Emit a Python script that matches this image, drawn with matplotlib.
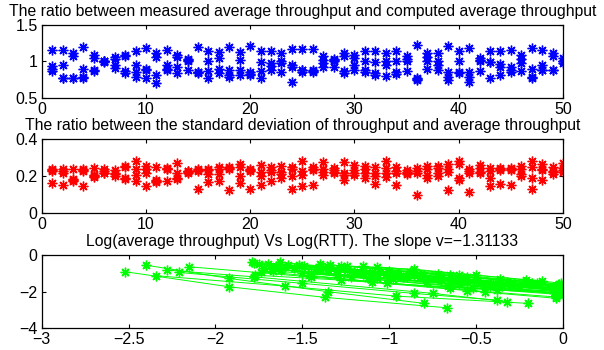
import matplotlib
matplotlib.use("Agg")
import matplotlib.pyplot as plt

plt.rcParams['font.family'] = ['Liberation Sans', 'DejaVu Sans']

# indice del experimento (1..50), 4 flujos por experimento
exp_idx = list(range(1, 51))

# cociente throughput medido / calculado
ratio_thr = [
    [1.16, 0.94, 0.90, 0.87], [1.16, 0.95, 0.78, 0.77], [1.11, 1.07, 0.78, 0.78],
    [1.20, 0.90, 0.79, 0.77], [1.09, 1.05, 0.89, 0.87], [1.01, 1.00, 0.99, 1.00],
    [1.06, 1.03, 0.95, 0.91], [1.09, 1.07, 0.87, 0.84], [1.15, 0.95, 0.86, 0.79],
    [1.18, 0.90, 0.88, 0.77], [1.11, 1.06, 0.82, 0.70], [1.16, 0.95, 0.90, 0.88],
    [1.09, 1.06, 0.92, 0.84], [1.03, 1.01, 1.02, 0.89], [1.20, 0.85, 0.84, 0.85],
    [1.14, 1.00, 0.87, 0.77], [1.13, 1.05, 0.90, 0.84], [1.20, 0.88, 0.82, 0.79],
    [1.13, 1.02, 0.88, 0.82], [1.21, 0.85, 0.83, 0.81], [1.15, 0.99, 0.87, 0.77],
    [1.15, 0.98, 0.94, 0.89], [1.11, 1.01, 0.98, 0.86], [1.17, 0.95, 0.72, 0.93],
    [1.17, 0.89, 0.86, 0.88], [1.17, 0.89, 0.86, 0.87], [1.07, 1.02, 0.98, 0.93],
    [1.03, 1.01, 0.92, 1.02], [1.11, 1.07, 0.87, 0.84], [1.09, 1.05, 0.95, 0.88],
    [1.14, 1.01, 0.89, 0.85], [1.15, 0.99, 0.84, 0.82], [1.11, 1.00, 0.95, 0.80],
    [1.15, 1.01, 0.85, 0.83], [1.08, 1.03, 1.00, 0.87], [1.22, 0.77, 0.75, 0.76],
    [1.11, 1.06, 1.00, 0.90], [1.11, 1.00, 0.95, 0.88], [1.21, 0.85, 0.79, 0.75],
    [1.15, 1.00, 0.84, 0.85], [1.19, 0.86, 0.79, 0.72], [1.05, 1.01, 0.87, 1.02],
    [1.15, 0.99, 0.77, 0.99], [1.15, 0.97, 0.92, 0.82], [1.16, 0.93, 0.88, 0.85],
    [1.09, 1.03, 0.98, 0.87], [1.19, 0.90, 0.79, 0.77], [1.16, 0.95, 0.88, 0.89],
    [1.11, 1.07, 0.89, 0.89], [1.05, 1.00, 0.98, 1.01],
]

# desviacion estandar / media del throughput
ratio_std = [
    [0.24, 0.235, 0.23, 0.165], [0.24, 0.23, 0.22, 0.15], [0.24, 0.185, 0.175, 0.18],
    [0.24, 0.235, 0.23, 0.145], [0.245, 0.205, 0.20, 0.195], [0.24, 0.23, 0.22, 0.215],
    [0.235, 0.22, 0.21, 0.20], [0.255, 0.25, 0.19, 0.185], [0.28, 0.24, 0.205, 0.175],
    [0.255, 0.24, 0.215, 0.145], [0.25, 0.18, 0.17, 0.175], [0.245, 0.24, 0.175, 0.24],
    [0.27, 0.215, 0.19, 0.185], [0.23, 0.225, 0.22, 0.23], [0.24, 0.235, 0.23, 0.13],
    [0.24, 0.21, 0.17, 0.235], [0.25, 0.24, 0.21, 0.175], [0.25, 0.245, 0.24, 0.125],
    [0.265, 0.25, 0.20, 0.165], [0.24, 0.235, 0.23, 0.13], [0.26, 0.225, 0.20, 0.155],
    [0.25, 0.235, 0.225, 0.175], [0.255, 0.225, 0.19, 0.21], [0.25, 0.24, 0.20, 0.13],
    [0.28, 0.23, 0.205, 0.145], [0.25, 0.24, 0.235, 0.15], [0.275, 0.24, 0.225, 0.205],
    [0.245, 0.235, 0.215, 0.225], [0.275, 0.215, 0.18, 0.205], [0.26, 0.235, 0.215, 0.205],
    [0.255, 0.24, 0.22, 0.19], [0.25, 0.20, 0.16, 0.22], [0.28, 0.245, 0.195, 0.22],
    [0.25, 0.215, 0.155, 0.23], [0.235, 0.225, 0.21, 0.22], [0.245, 0.23, 0.22, 0.10],
    [0.255, 0.24, 0.205, 0.19], [0.255, 0.245, 0.215, 0.20], [0.265, 0.24, 0.225, 0.125],
    [0.28, 0.265, 0.19, 0.18], [0.24, 0.23, 0.215, 0.115], [0.26, 0.245, 0.225, 0.22],
    [0.245, 0.19, 0.145, 0.23], [0.245, 0.235, 0.16, 0.24], [0.24, 0.235, 0.155, 0.245],
    [0.255, 0.21, 0.20, 0.24], [0.285, 0.25, 0.19, 0.13], [0.265, 0.235, 0.18, 0.24],
    [0.25, 0.23, 0.21, 0.225], [0.27, 0.245, 0.235, 0.225],
]

# log(RTT) y log(throughput medio), una linea por experimento
log_rtt = [
    [-2.52, -1.92, -1.37, -0.67], [-2.40, -1.92, -1.35, -0.80], [-2.34, -1.60, -0.96, -0.20],
    [-2.28, -1.78, -0.75, -0.32], [-2.21, -1.50, -0.86, -0.38], [-2.15, -1.45, -0.55, -0.04],
    [-1.79, -1.24, -0.71, 0.00], [-1.70, -1.17, -0.50, -0.02], [-1.77, -1.28, -0.65, -0.01],
    [-1.67, -1.07, -0.45, 0.00], [-1.58, -1.34, -0.86, -0.04], [-1.49, -0.95, -0.32, -0.01],
    [-1.46, -1.01, -0.38, 0.00], [-1.34, -0.86, -0.21, -0.02], [-1.24, -0.65, -0.20, 0.00],
    [-1.07, -0.50, -0.12, -0.01], [-1.75, -1.40, -0.90, -0.03], [-1.72, -1.10, -0.60, -0.02],
    [-1.65, -1.20, -0.35, 0.00], [-1.62, -0.98, -0.42, -0.05], [-1.55, -1.15, -0.70, -0.01],
    [-1.52, -0.80, -0.28, 0.00], [-1.42, -0.92, -0.48, -0.03], [-1.38, -1.05, -0.58, -0.02],
    [-1.30, -0.75, -0.30, 0.00], [-1.28, -0.88, -0.15, -0.04], [-1.20, -0.70, -0.25, -0.01],
    [-1.15, -0.60, -0.36, 0.00], [-1.78, -1.52, -1.02, -0.06], [-1.68, -1.30, -0.78, -0.02],
    [-1.60, -1.00, -0.55, -0.01], [-1.50, -1.22, -0.66, 0.00], [-1.40, -0.72, -0.18, -0.03],
    [-1.10, -0.82, -0.40, -0.02], [-1.00, -0.55, -0.22, 0.00], [-0.95, -0.62, -0.30, -0.01],
    [-1.74, -1.10, -0.45, -0.04], [-1.63, -1.36, -0.82, 0.00], [-1.45, -1.12, -0.52, -0.02],
    [-1.35, -0.95, -0.62, -0.01],
]
log_thr = [
    [-0.91, -1.74, -2.32, -2.89], [-0.55, -1.28, -2.01, -2.65], [-1.13, -1.70, -2.25, -2.65],
    [-0.82, -1.19, -2.10, -2.56], [-0.95, -1.55, -2.10, -2.47], [-0.64, -1.20, -1.95, -2.37],
    [-0.37, -0.80, -1.25, -1.78], [-0.46, -0.90, -1.42, -1.85], [-1.10, -1.37, -1.78, -2.10],
    [-0.88, -1.25, -1.62, -1.95], [-0.55, -0.73, -1.10, -1.72], [-0.60, -1.02, -1.48, -1.75],
    [-1.10, -1.55, -1.90, -2.05], [-0.55, -0.77, -1.37, -1.60], [-0.60, -1.10, -1.45, -1.70],
    [-0.64, -1.10, -1.42, -1.55], [-0.50, -0.78, -1.20, -1.88], [-0.72, -1.20, -1.60, -2.02],
    [-0.62, -1.00, -1.70, -1.98], [-0.80, -1.30, -1.72, -2.08], [-0.70, -1.02, -1.38, -1.90],
    [-0.52, -1.10, -1.55, -1.80], [-0.78, -1.18, -1.55, -1.92], [-0.68, -0.95, -1.35, -1.85],
    [-0.82, -1.28, -1.66, -1.93], [-0.58, -0.92, -1.55, -1.72], [-0.90, -1.30, -1.68, -2.00],
    [-0.62, -1.08, -1.30, -1.62], [-0.42, -0.62, -1.05, -1.82], [-0.75, -1.08, -1.50, -2.12],
    [-0.66, -1.15, -1.50, -1.88], [-0.98, -1.22, -1.70, -2.18], [-0.48, -1.05, -1.52, -1.66],
    [-0.95, -1.18, -1.55, -1.86], [-0.86, -1.22, -1.50, -1.70], [-1.05, -1.35, -1.62, -1.95],
    [-0.90, -1.45, -2.00, -2.30], [-0.40, -0.62, -1.10, -1.76], [-1.00, -1.28, -1.78, -1.98],
    [-0.82, -1.15, -1.45, -1.70],
]

slope = -1.31133

star = (8, 2, 0)  # asterisco tipo matlab
fs = 11.5
fs_tit = 11.3


def estilo(ax):
    ax.tick_params(direction='in', top=True, right=True, length=3, width=0.8, labelsize=fs, pad=3)
    for s in ax.spines.values():
        s.set_linewidth(0.9)


fig = plt.figure(figsize=(6.04, 3.5), dpi=100)

ax1 = fig.add_axes([0.069, 0.72, 0.863, 0.2086])
for i, vals in zip(exp_idx, ratio_thr):
    ax1.plot([i] * len(vals), vals, linestyle='none', marker=star, color=(0, 0, 1),
             markersize=7, markeredgewidth=1.0)
ax1.set_xlim(0, 50)
ax1.set_ylim(0.5, 1.5)
ax1.set_xticks([0, 10, 20, 30, 40, 50])
ax1.set_yticks([0.5, 1, 1.5])
ax1.set_yticklabels(['0.5', '1', '1.5'])
ax1.set_title('The ratio between measured average throughput and computed average throughput',
              fontsize=fs_tit, pad=6.5)
estilo(ax1)

ax2 = fig.add_axes([0.069, 0.391, 0.863, 0.211])
for i, vals in zip(exp_idx, ratio_std):
    ax2.plot([i] * len(vals), vals, linestyle='none', marker=star, color=(1, 0, 0),
             markersize=7, markeredgewidth=1.0)
ax2.set_xlim(0, 50)
ax2.set_ylim(0, 0.4)
ax2.set_xticks([0, 10, 20, 30, 40, 50])
ax2.set_yticks([0, 0.2, 0.4])
ax2.set_yticklabels(['0', '0.2', '0.4'])
ax2.set_title('The ratio between the standard deviation of throughput and average throughput',
              fontsize=fs_tit, pad=6.5)
estilo(ax2)

ax3 = fig.add_axes([0.069, 0.063, 0.863, 0.208])
for xs, ys in zip(log_rtt, log_thr):
    ax3.plot(xs, ys, '-', marker=star, color=(0, 1, 0), linewidth=0.7,
             markersize=7, markeredgewidth=1.0)
ax3.set_xlim(-3, 0)
ax3.set_ylim(-4, 0)
ax3.set_xticks([-3, -2.5, -2, -1.5, -1, -0.5, 0])
ax3.set_xticklabels(['\u22123', '\u22122.5', '\u22122', '\u22121.5', '\u22121', '\u22120.5', '0'])
ax3.set_yticks([-4, -2, 0])
ax3.set_yticklabels(['\u22124', '\u22122', '0'])
ax3.set_title('Log(average throughput) Vs Log(RTT). The slope v=' + ('%.5f' % slope).replace('-', '\u2212'),
              fontsize=fs_tit, pad=6.5)
estilo(ax3)

fig.savefig('out.png', dpi=100)
